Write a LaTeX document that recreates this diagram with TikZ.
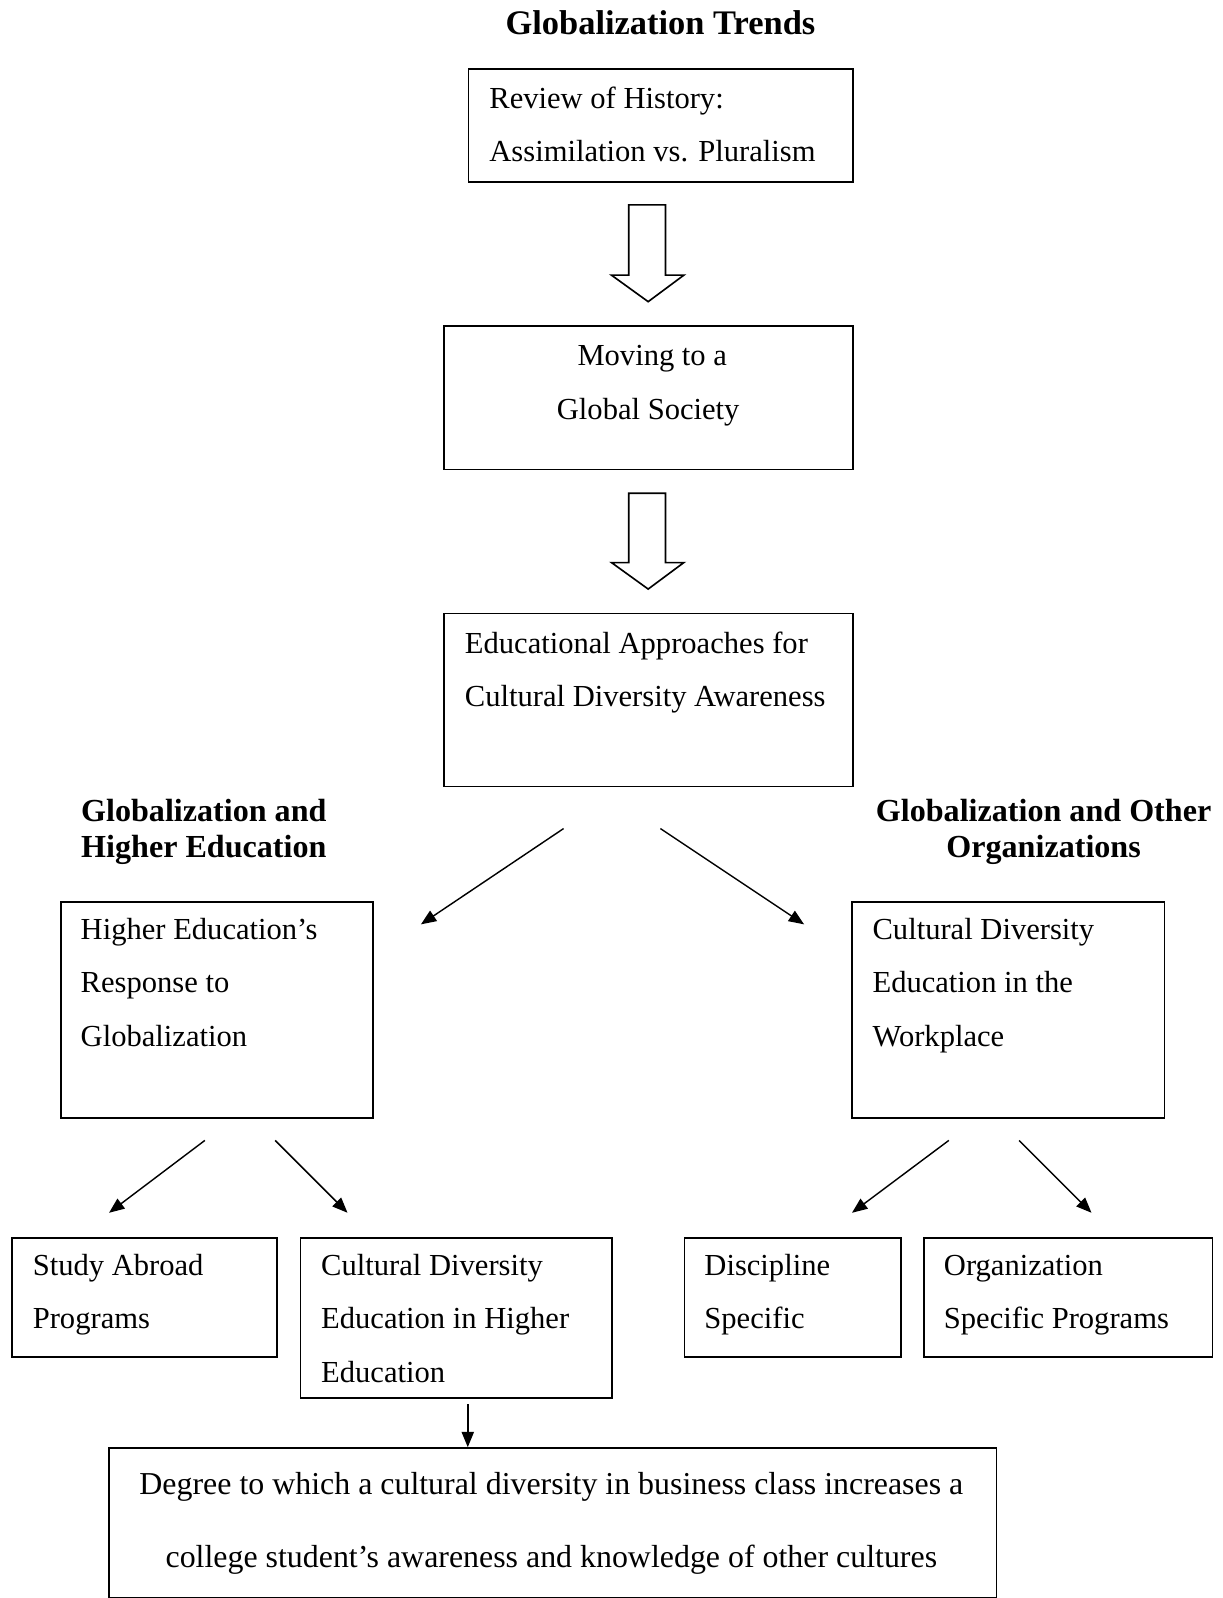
\documentclass[tikz,border=0pt]{standalone}
\usepackage{fontspec}
\setmainfont{Liberation Serif}
\usetikzlibrary{arrows.meta}
\begin{document}
\begin{tikzpicture}[x=1pt,y=-1pt,
  box/.style={draw,line width=1.6pt,inner sep=0pt,anchor=north west},
  txt/.style={anchor=base west,inner sep=0pt,font=\fontsize{30}{36}\selectfont},
  ctxt/.style={anchor=base,inner sep=0pt,font=\fontsize{30}{36}\selectfont},
  wtxt/.style={anchor=base,inner sep=0pt,font=\fontsize{31.3}{36}\selectfont},
  head/.style={anchor=base,inner sep=0pt,font=\fontsize{31.5}{36}\selectfont\bfseries},
  conn/.style={line width=1.4pt,-{Triangle[length=15pt,width=12pt]}},
  hollow/.style={draw,line width=1.6pt,fill=white,line join=miter}]
\useasboundingbox (0,0) rectangle (1200,1568);

% title
\node[head,font=\fontsize{33.8}{36}\selectfont\bfseries] (title) at (648,34) {Globalization Trends};

% box 1
\node[box,minimum width=377pt,minimum height=111pt] (b1) at (459,67) {};
\node[txt] (b1t1) at (480,106) {Review of History:};
\node[txt] (b1t2) at (480,158) {Assimilation vs. Pluralism};

% hollow arrow 1
\draw[hollow] (617,201) -- (653,201) -- (653,270) -- (671,270) -- (636,296) -- (600,270) -- (617,270) -- cycle;

% box 2
\node[box,minimum width=401pt,minimum height=141pt] (b2) at (435,319) {};
\node[ctxt] (b2t1) at (640,359) {Moving to a};
\node[ctxt] (b2t2) at (636,412) {Global Society};

% hollow arrow 2
\draw[hollow] (617,484) -- (653,484) -- (653,552) -- (671,552) -- (636,578) -- (600,552) -- (617,552) -- cycle;

% box 3
\node[box,minimum width=401pt,minimum height=170pt] (b3) at (435,601) {};
\node[txt] (b3t1) at (456,641) {Educational Approaches for};
\node[txt] (b3t2) at (456,693) {Cultural Diversity Awareness};

% headings
\node[head] (hl1) at (200,806) {Globalization and};
\node[head] (hl2) at (200,841) {Higher Education};
\node[head] (hr1) at (1024,806) {Globalization and Other};
\node[head] (hr2) at (1024,841) {Organizations};

% diagonal arrows from box 3
\coordinate (a1s) at (553,813); \coordinate (a1e) at (413,907);
\coordinate (a2s) at (648,813); \coordinate (a2e) at (789,907);
\draw[conn] (a1s) -- (a1e);
\draw[conn] (a2s) -- (a2e);

% box 4
\node[box,minimum width=306pt,minimum height=212pt] (b4) at (59,884) {};
\node[txt] (b4t1) at (79,922) {Higher Education’s};
\node[txt] (b4t2) at (79,974) {Response to};
\node[txt] (b4t3) at (79,1027) {Globalization};

% box 5
\node[box,minimum width=307pt,minimum height=212pt] (b5) at (835,884) {};
\node[txt] (b5t1) at (856,922) {Cultural Diversity};
\node[txt] (b5t2) at (856,974) {Education in the};
\node[txt] (b5t3) at (856,1027) {Workplace};

% arrows from box 4 and 5
\coordinate (a3s) at (201,1119); \coordinate (a3e) at (107,1190);
\coordinate (a4s) at (270,1119); \coordinate (a4e) at (341,1190);
\coordinate (a5s) at (931,1119); \coordinate (a5e) at (836,1190);
\coordinate (a6s) at (1000,1119); \coordinate (a6e) at (1071,1190);
\draw[conn] (a3s) -- (a3e);
\draw[conn] (a4s) -- (a4e);
\draw[conn] (a5s) -- (a5e);
\draw[conn] (a6s) -- (a6e);

% bottom row boxes
\node[box,minimum width=260pt,minimum height=117pt] (b6) at (11,1214) {};
\node[txt] (b6t1) at (32,1252) {Study Abroad};
\node[txt] (b6t2) at (32,1304) {Programs};

\node[box,minimum width=306pt,minimum height=157pt] (b7) at (294,1214) {};
\node[txt] (b7t1) at (315,1252) {Cultural Diversity};
\node[txt] (b7t2) at (315,1304) {Education in Higher};
\node[txt] (b7t3) at (315,1357) {Education};

\node[box,minimum width=212pt,minimum height=117pt] (b8) at (671,1214) {};
\node[txt] (b8t1) at (691,1252) {Discipline};
\node[txt] (b8t2) at (691,1304) {Specific};

\node[box,minimum width=283pt,minimum height=117pt] (b9) at (906,1214) {};
\node[txt] (b9t1) at (926,1252) {Organization};
\node[txt] (b9t2) at (926,1304) {Specific Programs};

% final box
\node[box,minimum width=871pt,minimum height=147pt] (b10) at (106,1420) {};
\coordinate (a7s) at (459,1378);
\draw[conn] (a7s) -- (a7s |- b10.north);
\node[wtxt] (b10t1) at (541,1466) {Degree to which a cultural diversity in business class increases a};
\node[wtxt] (b10t2) at (541,1538) {college student’s awareness and knowledge of other cultures};
\end{tikzpicture}
\end{document}
